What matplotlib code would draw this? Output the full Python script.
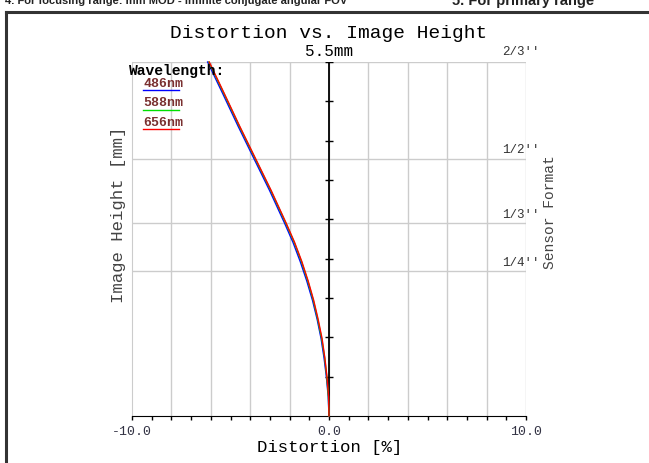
#%%
import numpy as np
import matplotlib.pyplot as plt
from matplotlib.lines import Line2D

#%%     DATA

height_mm = [0.0, 0.3, 0.6, 0.9, 1.2, 1.5, 1.8, 2.1, 2.4, 2.7, 3.0, 3.5, 4.0, 4.5, 5.0, 5.5]
dist_486 = [0.0, -0.04, -0.13, -0.25, -0.40, -0.60, -0.84, -1.13, -1.46, -1.83, -2.26, -3.01, -3.81, -4.61, -5.38, -6.16]
dist_588 = [0.0, -0.03, -0.11, -0.22, -0.37, -0.57, -0.80, -1.08, -1.40, -1.77, -2.20, -2.95, -3.75, -4.55, -5.32, -6.10]
dist_656 = [0.0, -0.02, -0.10, -0.21, -0.35, -0.55, -0.78, -1.06, -1.38, -1.75, -2.18, -2.93, -3.73, -4.53, -5.30, -6.08]

wavelengths = ['486nm', '588nm', '656nm']
wl_colors = ['#0000ff', '#00e000', '#ff0000']

sensor_labels = ["2/3''", "1/2''", "1/3''", "1/4''"]
sensor_mm = [5.5, 4.0, 3.0, 2.25]

x_min, x_max = -10.0, 10.0
y_max = 5.5

#%%     FIGURE

W, H = 649, 464
fig = plt.figure(figsize=(W / 100, H / 100), dpi=100)
mono = 'Liberation Mono'

def px(x, y):
    # pixel position -> figure fraction
    return x / W, 1 - y / H

ax = fig.add_axes([132 / W, 1 - 417 / H, 394 / W, 354 / H])
ax.set_xlim(x_min, x_max)
ax.set_ylim(0, y_max)

# light gray grid
for gx in np.arange(-8, 10.1, 2):
    ax.axvline(gx, color='#cccccc', lw=1, zorder=0)
for s in sensor_mm:
    ax.axhline(s, color='#cccccc', lw=1, zorder=0)

for side in ['top', 'right']:
    ax.spines[side].set_visible(False)
ax.spines['left'].set_color('#cccccc')
ax.spines['bottom'].set_color('black')
ax.set_xticks(np.arange(-10, 10.1, 1))
ax.set_xticklabels([])
ax.set_yticks([])
ax.tick_params(axis='x', direction='out', length=3, width=1, color='black')

# center axis with its little ticks
ax.axvline(0, color='black', lw=1.3, zorder=2)
center_ticks = np.arange(1, 10) * y_max / 9
ax.plot(np.zeros(len(center_ticks)), center_ticks, ls='none', marker='_',
        color='black', ms=6, mew=1, zorder=2)

# curves
for d, c in zip([dist_486, dist_588, dist_656], wl_colors):
    ax.plot(d, height_mm, color=c, lw=1, zorder=3, clip_on=False)

#%%     TEXTS

fig.text(*px(329, 34), 'Distortion vs. Image Height', family=mono,
         fontsize=14, ha='center', va='center')
fig.text(*px(329, 52), '5.5mm', family=mono, fontsize=11.5, ha='center', va='center')
fig.text(*px(330, 448), 'Distortion [%]', family=mono, fontsize=12.5,
         ha='center', va='center')
fig.text(*px(118, 215), 'Image Height [mm]', family=mono, fontsize=12.5,
         ha='center', va='center', rotation=90, color='#444444')
fig.text(*px(550, 212), 'Sensor Format', family=mono, fontsize=10.5,
         ha='center', va='center', rotation=90, color='#444444')

for lab, xv in zip(['-10.0', '0.0', '10.0'], [x_min, 0, x_max]):
    ax.text(xv, -0.23, lab, family=mono, fontsize=9.5, ha='center', va='center',
            color='#333344')

label_y = [52, 150, 215, 263]
for lab, yy in zip(sensor_labels, label_y):
    fig.text(*px(540, yy), lab, family=mono, fontsize=9, ha='right', va='center',
             color='#333333')

# legend
fig.text(*px(129, 71), 'Wavelength:', family=mono, fontsize=10.5, weight='bold',
         ha='left', va='center')
for i, (lab, c) in enumerate(zip(wavelengths, wl_colors)):
    ty = 84 + i * 19.5
    fig.text(*px(143, ty), lab, family=mono, fontsize=9.5, weight='bold',
             ha='left', va='center', color='#7a3030')
    x0, y0 = px(143, ty + 7)
    x1, _ = px(179, ty + 7)
    fig.add_artist(Line2D([x0, x1], [y0, y0], color=c, lw=1))

# cropped caption at the very top and the frame box
fig.text(*px(5, 1.5), '4. For focusing range: mm MOD - infinite conjugate angular FOV',
         family='Liberation Sans', weight='bold',
         fontsize=8, ha='left', va='center', color='#222222')
fig.text(*px(452, 1.5), '5. For primary range', family='Liberation Sans',
         weight='bold', fontsize=10.5, ha='left', va='center', color='#222222')
fx0, fy0 = px(6, 12.5)
fig.add_artist(Line2D([fx0, 1.0], [fy0, fy0], color='#333333', lw=2.2))
fig.add_artist(Line2D([fx0, fx0], [fy0, 0.0], color='#333333', lw=2.2))

fig.savefig('out.png', dpi=100)
